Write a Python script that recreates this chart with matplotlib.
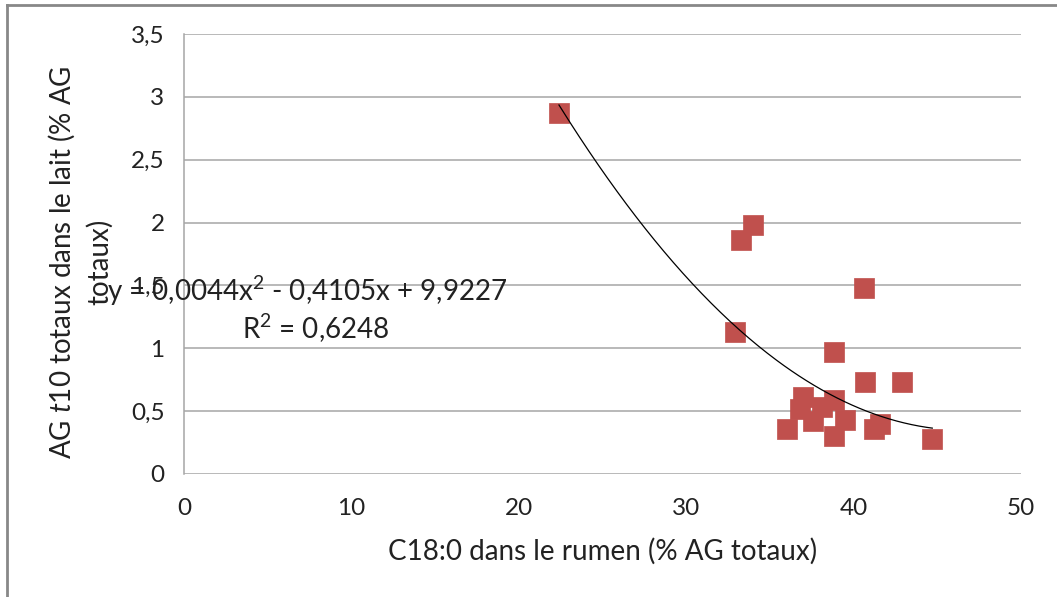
import numpy as np
import matplotlib
matplotlib.use("Agg")
import matplotlib.pyplot as plt
from matplotlib.lines import Line2D

plt.rcParams['font.family'] = ['Lato', 'DejaVu Sans']
plt.rcParams['mathtext.fontset'] = 'custom'
plt.rcParams['mathtext.rm'] = 'Lato'
plt.rcParams['mathtext.it'] = 'Lato:italic'

# C18:0 in rumen (x) vs AG t10 in milk (y)
c18_rumen = [22.4, 33.3, 34.0, 32.9, 40.6, 38.8, 40.7, 42.9, 44.7,
             37.0, 36.8, 38.1, 38.8, 39.5, 37.6, 36.0, 38.8, 41.6, 41.2]
t10_lait = [2.87, 1.86, 1.98, 1.13, 1.48, 0.97, 0.73, 0.73, 0.28,
            0.61, 0.52, 0.53, 0.59, 0.43, 0.42, 0.36, 0.30, 0.40, 0.36]

# polynomial trend (order 2) as reported
coef_a, coef_b, coef_c = 0.0044, -0.4105, 9.9227
r2 = 0.6248

x_ticks = [0, 10, 20, 30, 40, 50]
y_ticks = [0, 0.5, 1, 1.5, 2, 2.5, 3, 3.5]
y_ticklabels = ['0', '0,5', '1', '1,5', '2', '2,5', '3', '3,5']

W, H = 1057, 597
txt_col = '#222222'
fig = plt.figure(figsize=(W / 100, H / 100), dpi=100)
ax = fig.add_axes([184 / W, 1 - 474 / H, (1021 - 184) / W, (474 - 34) / H])

grid_col = '#a6a6a6'
ax.set_xlim(0, 50)
ax.set_ylim(0, 3.5)
ax.set_yticks(y_ticks)
ax.set_yticklabels(y_ticklabels)
ax.set_xticks(x_ticks)
ax.yaxis.grid(True, color=grid_col, linewidth=1.1)
ax.set_axisbelow(True)
for side in ['top', 'right', 'bottom']:
    ax.spines[side].set_visible(False)
ax.spines['left'].set_color(grid_col)
ax.spines['left'].set_linewidth(1.1)
ax.tick_params(axis='both', length=0, labelsize=17.5, colors=txt_col)
ax.tick_params(axis='y', pad=14)
ax.tick_params(axis='x', pad=17)

ax.scatter(c18_rumen, t10_lait, marker='s', s=15 ** 2, color='#c0504d',
           edgecolors='#c0504d', linewidths=0.5, zorder=3)

xs = np.linspace(min(c18_rumen), max(c18_rumen), 200)
ax.plot(xs, coef_a * xs ** 2 + coef_b * xs + coef_c, color='black',
        linewidth=0.9, zorder=4)

fig.text(603 / W, 1 - 551 / H, 'C18:0 dans le rumen (% AG totaux)',
         ha='center', va='center', fontsize=20, color=txt_col)
fig.text(62 / W, 1 - 262 / H, 'AG $t$10 totaux dans le lait (% AG',
         rotation=90, ha='center', va='center', fontsize=20, color=txt_col)
fig.text(100 / W, 1 - 262 / H, 'totaux)', rotation=90, ha='center',
         va='center', fontsize=20, color=txt_col)

def fmt(v):
    return '{:.4f}'.format(v).replace('.', ',')

eq = 'y = ' + fmt(coef_a) + 'x$^2$ - ' + fmt(-coef_b) + 'x + ' + fmt(coef_c)
fig.text(307 / W, 1 - 291 / H, eq, ha='center', va='center', fontsize=20,
         color=txt_col)
fig.text(316 / W, 1 - 328 / H, 'R$^2$ = ' + fmt(r2),
         ha='center', va='center', fontsize=20, color=txt_col)

# chart frame
fig.add_artist(Line2D([7 / W, 1], [1 - 5 / H, 1 - 5 / H], color='#888888',
                      linewidth=2, transform=fig.transFigure))
fig.add_artist(Line2D([7 / W, 7 / W], [0, 1 - 5 / H], color='#888888',
                      linewidth=2, transform=fig.transFigure))

fig.savefig('out.png', dpi=100)
